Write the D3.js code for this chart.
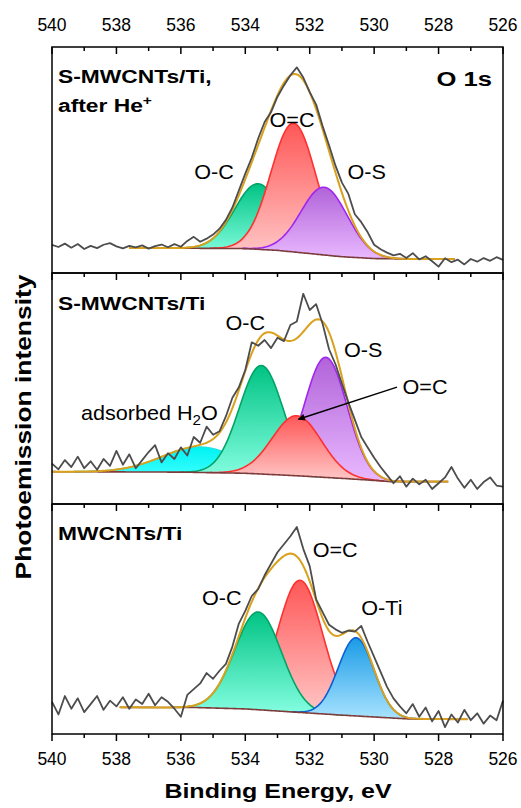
<!DOCTYPE html>
<html>
<head>
<meta charset="utf-8">
<script src="https://cdn.jsdelivr.net/npm/d3@7"></script>
<style>
  body { margin: 0; background: #fff; }
  svg { display: block; }
  text { font-family: "Liberation Sans", Arial, sans-serif; fill: #000; }
</style>
</head>
<body>
<div id="chart"></div>
<script>
// chart defaults
const width = 521
const height = 808
const left = 52
const right = 503
const panelTops = [47, 273, 504]
const panelBottoms = [273, 504, 734]

// x grid of the measured spectra (540 -> 526 eV, 0.2 eV steps)
const energies = d3.range(0, 71).map(i => +(540 - i * 0.2).toFixed(1))
const majorTicks = [540, 538, 536, 534, 532, 530, 528, 526]

// --- S-MWCNTs/Ti after He+ (top) ---
const topRaw = [12.4, 11.5, 13.0, 11.2, 12.8, 10.6, 12.0, 11.0, 12.5, 13.2,
  11.8, 10.9, 12.0, 11.3, 12.2, 10.8, 11.9, 12.6, 11.4, 12.8,
  11.6, 14.2, 16.0, 13.8, 15.2, 17.0, 19.6, 23.5, 29.0, 36.5,
  44.0, 51.0, 59.5, 66.8, 71.2, 78.0, 83.0, 87.5, 91.0, 86.5,
  80.0, 74.5, 65.0, 56.5, 47.5, 40.0, 35.0, 26.0, 22.5, 18.0,
  12.5, 10.5, 9.0, 7.8, 8.5, 6.6, 8.8, 6.0, 7.4, 5.2,
  2.8, 6.5, 4.8, 5.9, 3.8, 6.2, 5.0, 6.6, 5.4, 7.0, 5.8]
const topNames = ["O-C", "O=C", "O-S"]
const topCenters = [533.6, 532.5, 531.55]
const topHeights = [29, 57, 30]
const topFwhm = [1.7, 1.65, 1.7]
const topBgE = [537.6, 534, 533, 532, 531, 530, 529, 527.5]
const topBgV = [11.1, 10.8, 10.0, 8.6, 7.2, 6.4, 6.2, 6.2]
const topFit = [537.6, 527.5]

// --- S-MWCNTs/Ti (middle) ---
const midRaw = [17.5, 15.0, 19.0, 16.0, 20.5, 15.5, 18.5, 14.8, 19.5, 16.5,
  23.0, 17.0, 21.5, 15.5, 19.0, 22.5, 25.5, 18.0, 22.0, 19.5,
  24.5, 21.0, 29.0, 26.5, 33.5, 30.0, 31.5, 38.0, 46.0, 50.5,
  58.0, 70.0, 68.5, 71.0, 67.5, 72.0, 70.5, 77.5, 79.0, 91.0,
  84.0, 86.5, 78.0, 67.0, 60.5, 52.0, 44.0, 36.5, 29.0, 24.5,
  20.0, 16.0, 12.5, 9.0, 12.0, 7.5, 11.0, 8.5, 10.5, 6.5,
  9.0, 11.5, 16.0, 11.0, 7.0, 10.5, 6.5, 9.5, 11.5, 8.0, 7.5]
const midNames = ["H2O", "O-C", "O-S", "O=C"]
const midCenters = [535.4, 533.5, 531.5, 532.4]
const midHeights = [11, 47, 52, 26]
const midFwhm = [2.8, 1.6, 1.55, 1.8]
const midBgE = [540, 536, 534, 532.5, 531, 530, 529.5, 527.7]
const midBgV = [14.0, 13.8, 13.3, 12.3, 11.1, 10.2, 9.7, 9.7]
const midFit = [540, 527.7]

// --- MWCNTs/Ti (bottom) ---
const botRaw = [14.0, 8.5, 16.5, 11.0, 15.5, 9.5, 13.0, 16.5, 10.5, 14.5,
  12.0, 16.0, 11.0, 15.0, 13.0, 17.5, 12.5, 16.0, 14.0, 11.0,
  7.5, 17.0, 19.5, 22.0, 26.5, 24.0, 27.5, 30.5, 38.0, 48.0,
  53.5, 60.0, 63.0, 69.0, 74.0, 79.0, 82.5, 86.0, 90.0, 80.5,
  73.0, 58.5, 53.0, 47.5, 45.5, 44.0, 45.0, 44.5, 47.0, 40.0,
  33.5, 27.0, 20.5, 15.5, 12.0, 9.0, 13.0, 7.5, 11.5, 5.5,
  10.0, 3.0, 8.5, 5.0, 10.5, 6.0, 9.0, 4.5, 8.0, 6.0, 14.5]
const botNames = ["O=C", "O-C", "O-Ti"]
const botCenters = [532.3, 533.6, 530.56]
const botHeights = [57.5, 42.5, 34]
const botFwhm = [1.65, 1.7, 1.3]
const botBgE = [537.9, 535.5, 534, 533, 532, 531, 530, 529, 527.1]
const botBgV = [11.6, 11.5, 10.9, 10.0, 9.1, 8.2, 7.4, 6.6, 6.4]
const botFit = [537.9, 527.1]

const styles = {
  "O-C": { top: "#00c383", bottom: "#86ffe2", stroke: "#00a466" },
  "O=C": { top: "#ff5757", bottom: "#ffc9c9", stroke: "#ff3030" },
  "O-S": { top: "#b163d9", bottom: "#e9b9ff", stroke: "#a126ee" },
  "H2O": { top: "#00f2f2", bottom: "#3dffff", stroke: "#19e6e6" },
  "O-Ti": { top: "#1a9be6", bottom: "#a8e3ff", stroke: "#0b5fd4" }
}
const envColor = "#d9a11c"
const bgColor = "#7d3c3c"
const rawColor = "#4d4d4d"

const panels = [
  { raw: topRaw, names: topNames, centers: topCenters, heights: topHeights, fwhm: topFwhm, bgE: topBgE, bgV: topBgV, fit: topFit },
  { raw: midRaw, names: midNames, centers: midCenters, heights: midHeights, fwhm: midFwhm, bgE: midBgE, bgV: midBgV, fit: midFit },
  { raw: botRaw, names: botNames, centers: botCenters, heights: botHeights, fwhm: botFwhm, bgE: botBgE, bgV: botBgV, fit: botFit }
]

// peak labels: [panel, text, eV, intensity]
const peakLabels = [
  [0, "O-C", 534.97, 44.8], [0, "O=C", 532.55, 67.7], [0, "O-S", 530.23, 44.8],
  [1, "O-C", 534.0, 78.4], [1, "O-S", 530.34, 66.7], [1, "O=C", 528.42, 50.8],
  [2, "O-C", 534.73, 59.1], [2, "O=C", 531.21, 80], [2, "O-Ti", 529.76, 54.8]
]

const gauss = (e, c, h, w) => h * Math.exp(-4 * Math.LN2 * (e - c) * (e - c) / (w * w))

const svg = d3.select('#chart')
  .append('svg')
  .attr('width', width)
  .attr('height', height)

const defs = svg.append('defs')
defs.append('marker')
  .attr('id', 'arrow')
  .attr('viewBox', '0 0 10 10')
  .attr('refX', 9).attr('refY', 5)
  .attr('markerWidth', 9).attr('markerHeight', 7)
  .attr('markerUnits', 'userSpaceOnUse')
  .attr('orient', 'auto')
  .append('path').attr('d', 'M0,0 L10,5 L0,10 z').attr('fill', '#000')

const x = d3.scaleLinear().domain([540, 526]).range([left, right])

const yScales = []

panels.forEach((p, k) => {
  const y = d3.scaleLinear().domain([0, 100]).range([panelBottoms[k], panelTops[k]])
  yScales.push(y)
  const bg = d3.scaleLinear().domain(p.bgE).range(p.bgV).clamp(true)
  const grid = d3.range(p.fit[0], p.fit[1] - 0.001, -0.05)
  const g = svg.append('g')

  // fitted components
  p.names.forEach((name, i) => {
    const st = styles[name]
    const gid = 'grad' + k + '_' + i
    const grad = defs.append('linearGradient').attr('id', gid)
      .attr('x1', 0).attr('y1', 0).attr('x2', 0).attr('y2', 1)
    grad.append('stop').attr('offset', '0%').attr('stop-color', st.top)
    grad.append('stop').attr('offset', '100%').attr('stop-color', st.bottom)
    const comp = e => gauss(e, p.centers[i], p.heights[i], p.fwhm[i])
    const pts = grid.filter(e => comp(e) > 0.05)
    g.append('path').datum(pts)
      .attr('d', d3.area().x(e => x(e)).y0(e => y(bg(e))).y1(e => y(bg(e) + comp(e))))
      .attr('fill', `url(#${gid})`)
    g.append('path').datum(pts)
      .attr('d', d3.line().x(e => x(e)).y(e => y(bg(e) + comp(e))))
      .attr('fill', 'none').attr('stroke', st.stroke).attr('stroke-width', 1.6)
  })

  // background
  g.append('path').datum(grid)
    .attr('d', d3.line().x(e => x(e)).y(e => y(bg(e))))
    .attr('fill', 'none').attr('stroke', bgColor).attr('stroke-width', 1.6)

  // envelope
  const env = e => bg(e) + d3.sum(p.names, (n, i) => gauss(e, p.centers[i], p.heights[i], p.fwhm[i]))
  g.append('path').datum(grid)
    .attr('d', d3.line().x(e => x(e)).y(e => y(env(e))))
    .attr('fill', 'none').attr('stroke', envColor).attr('stroke-width', 2)

  // measured spectrum
  g.append('path').datum(p.raw)
    .attr('d', d3.line().x((d, i) => x(energies[i])).y(d => y(d)))
    .attr('fill', 'none').attr('stroke', rawColor).attr('stroke-width', 1.8)
    .attr('stroke-linejoin', 'round')

  // frame and inward ticks
  svg.append('rect')
    .attr('x', left).attr('y', panelTops[k])
    .attr('width', right - left).attr('height', panelBottoms[k] - panelTops[k])
    .attr('fill', 'none').attr('stroke', '#000').attr('stroke-width', 1.5)

  svg.append('g')
    .attr('transform', 'translate(0,' + panelTops[k] + ')')
    .selectAll('line').data(d3.range(540, 525.5, -1)).enter().append('line')
    .attr('x1', d => x(d)).attr('x2', d => x(d))
    .attr('y1', 0).attr('y2', d => d % 2 === 0 ? 7 : 4)
    .attr('stroke', '#000').attr('stroke-width', 1.5)
})

// bottom outward ticks
svg.append('g')
  .attr('transform', 'translate(0,' + panelBottoms[2] + ')')
  .selectAll('line').data(d3.range(540, 525.5, -1)).enter().append('line')
  .attr('x1', d => x(d)).attr('x2', d => x(d))
  .attr('y1', 0).attr('y2', d => d % 2 === 0 ? 7 : 4)
  .attr('stroke', '#000').attr('stroke-width', 1.5)

// tick labels top and bottom
const tickLabel = (yPos) => svg.append('g').selectAll('text').data(majorTicks).enter().append('text')
  .attr('x', d => x(d)).attr('y', yPos)
  .attr('text-anchor', 'middle')
  .style('font-size', '17.5px')
  .text(d => d)
tickLabel(30.5)
tickLabel(765)

// helper for (slightly wide) labels
function label(xp, yp, txt, size, opts = {}) {
  const t = svg.append('text')
    .attr('transform', `translate(${xp},${yp}) ${opts.rotate ? 'rotate(' + opts.rotate + ')' : ''} scale(${opts.sx || 1},1)`)
    .attr('text-anchor', opts.anchor || 'start')
    .style('font-size', size + 'px')
    .style('font-weight', opts.bold ? 'bold' : 'normal')
  if (typeof txt === 'string') t.text(txt)
  else txt(t)
  return t
}

// axis titles
label(278, 798, "Binding Energy, eV", 21, { bold: true, anchor: 'middle', sx: 1.19 })
label(31, 427, "Photoemission intensity", 22, { bold: true, anchor: 'middle', rotate: -90, sx: 1.2 })

// panel titles
label(58, 83, "S-MWCNTs/Ti,", 19, { bold: true, sx: 1.2 })
label(58, 111.5, t => {
  t.append('tspan').text('after He')
  t.append('tspan').attr('dy', -7).style('font-size', '13px').text('+')
}, 19, { bold: true, sx: 1.2 })
label(492, 86, "O 1s", 21, { bold: true, anchor: 'end', sx: 1.22 })
label(58, 309.5, "S-MWCNTs/Ti", 19, { bold: true, sx: 1.2 })
label(58, 539.5, "MWCNTs/Ti", 19, { bold: true, sx: 1.2 })

// peak labels
peakLabels.forEach(([k, txt, e, v]) => {
  label(x(e), yScales[k](v) + 7, txt, 20, { anchor: 'middle', sx: 1.08 })
})
label(x(536.98), yScales[1](39.5) + 7, t => {
  t.append('tspan').text('adsorbed H')
  t.append('tspan').attr('dy', 5).style('font-size', '14px').text('2')
  t.append('tspan').attr('dy', -5).text('O')
}, 20, { anchor: 'middle', sx: 1.08 })

// arrow to the O=C component in the middle panel
svg.append('line')
  .attr('x1', x(529.29)).attr('y1', yScales[1](50.6))
  .attr('x2', x(532.35)).attr('y2', yScales[1](36.7))
  .attr('stroke', '#000').attr('stroke-width', 1.5)
  .attr('marker-end', 'url(#arrow)')
</script>
</body>
</html>
